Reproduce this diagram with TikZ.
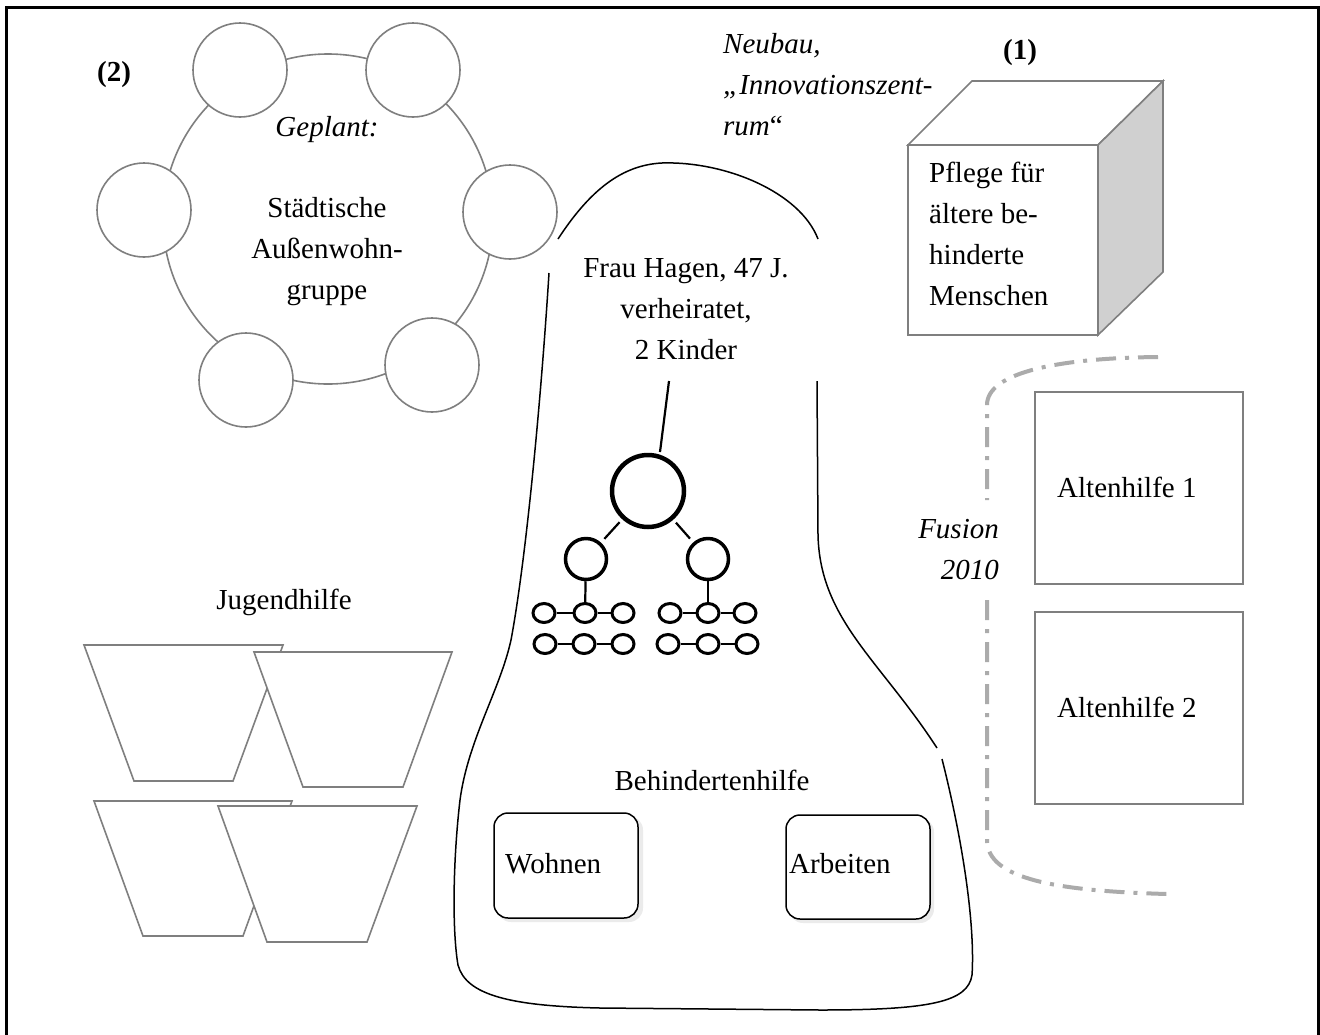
\documentclass[tikz,border=0pt]{standalone}
\usepackage{fontspec}
\setmainfont{Liberation Serif}
\usetikzlibrary{shapes.geometric}
\definecolor{linegray}{HTML}{7F7F7F}
\definecolor{sidegray}{HTML}{D0D0D0}
\definecolor{fusiongray}{HTML}{ABABAB}
\newcommand{\diagfont}{\fontsize{29}{41}\selectfont}
\tikzset{
  txt/.style={font=\diagfont, inner sep=0pt},
  graystroke/.style={draw=linegray, line width=1.6pt},
  ringdot/.style={circle, graystroke, fill=white, minimum size=94pt, inner sep=0pt},
  trapez/.style={graystroke, fill=white, line join=miter},
  blob/.style={draw=black, line width=1.5pt},
  roundbox/.style={draw=black, line width=1.5pt, rounded corners=14pt, fill=white},
  bigcirc/.style={circle, draw=black, line width=4.5pt, minimum size=72pt, inner sep=0pt},
  midcirc/.style={circle, draw=black, line width=3.5pt, minimum size=41pt, inner sep=0pt},
  smallell/.style={ellipse, draw=black, line width=3pt, minimum width=22pt, minimum height=19pt, inner sep=0pt},
  treeline/.style={draw=black, line width=2.2pt},
  fusionline/.style={draw=fusiongray, line width=4pt, dash pattern=on 20pt off 9pt on 4pt off 9pt},
  altbox/.style={graystroke},
}
\begin{document}
\begin{tikzpicture}[x=1pt, y=-1pt]
\useasboundingbox (0,0) rectangle (1320,1034);

% outer frame (open at the bottom)
\draw[line width=3pt] (6,1040) -- (6,7) -- (1318,7) -- (1318,1040);

% ---- (2) planned outside group: ring with six satellites
\node[txt, font=\diagfont\bfseries] (lbl2) at (114,75) {(2)};
\draw[graystroke] (328,219) circle (165pt);
\node[ringdot] (s1) at (240,70) {};
\node[ringdot] (s2) at (413,70) {};
\node[ringdot] (s3) at (144,210) {};
\node[ringdot] (s4) at (510,212) {};
\node[ringdot] (s5) at (246,380) {};
\node[ringdot] (s6) at (432,365) {};
\node[txt, font=\diagfont\itshape] (geplant) at (327,130) {Geplant:};
\node[txt, align=center] (aussen) at (327,252) {Städtische\\Außenwohn-\\gruppe};

% ---- Neubau label
\node[txt, align=left, anchor=west, font=\diagfont\itshape] (neubau) at (723,85)
  {Neubau,\\„Innovationszent-\\rum\upshape“};

% ---- (1) cube
\node[txt, font=\diagfont\bfseries] (lbl1) at (1020,53) {(1)};
\coordinate (fa) at (908,145);
\coordinate (fb) at (1098,145);
\coordinate (fc) at (1098,335);
\coordinate (fd) at (908,335);
\coordinate (ta) at (972,81);
\coordinate (tb) at (1163,81);
\coordinate (tc) at (1163,272);
\draw[graystroke, fill=white, line join=miter] (fa) -- (ta) -- (tb) -- (fb) -- cycle;
\draw[graystroke, fill=sidegray, line join=miter] (fb) -- (tb) -- (tc) -- (fc) -- cycle;
\draw[graystroke, fill=white] (fa) rectangle (fc);
\node[txt, align=left, anchor=west] (pflege) at (929,234)
  {Pflege für\\ältere be-\\hinderte\\Menschen};

% ---- Behindertenhilfe outline
\draw[blob] (558,239) .. controls (590,190) and (622,165) .. (662,163)
  .. controls (725,161) and (800,192) .. (818,239);
\draw[blob] (549,273) .. controls (541,400) and (526,560) .. (511,640)
  .. controls (500,690) and (468,740) .. (460,800)
  .. controls (453,860) and (452,930) .. (458,965)
  .. controls (466,995) and (510,1006) .. (600,1008)
  -- (820,1010) .. controls (930,1010) and (968,1002) .. (972,975)
  .. controls (975,930) and (965,850) .. (942,759);
\draw[blob] (817,381) -- (818,535) .. controls (820,620) and (880,660) .. (937,748);

\node[txt, align=center] (hagen) at (686,309) {Frau Hagen, 47 J.\\verheiratet,\\2 Kinder};

% family tree
\node[bigcirc] (t0) at (648,491) {};
\node[midcirc] (tl) at (586,559) {};
\node[midcirc] (tr) at (708,559) {};
\coordinate (hang) at (669,381);
\draw[treeline] (hang) -- (660,452);
\draw[treeline, shorten <=4pt, shorten >=5pt] (t0) -- (tl);
\draw[treeline, shorten <=4pt, shorten >=5pt] (t0) -- (tr);
\foreach \n/\x/\y in {a1/544/613, a2/585/613, a3/623/613,
                      a4/545/644, a5/584/644, a6/623/644,
                      b1/670/613, b2/708/613, b3/745/613,
                      b4/668/644, b5/708/644, b6/747/644}
  \node[smallell] (\n) at (\x,\y) {};
\draw[treeline] (tl) -- (a2);
\draw[treeline] (tr) -- (b2);
\foreach \p/\q in {a1/a2, a2/a3, a4/a5, a5/a6, b1/b2, b2/b3, b4/b5, b5/b6}
  \draw[treeline] (\p) -- (\q);

\node[txt] (behind) at (712,780) {Behindertenhilfe};
\fill[black, opacity=0.08, rounded corners=14pt] (497,816) rectangle (643,922);
\fill[black, opacity=0.08, rounded corners=14pt] (789,818) rectangle (934,923);
\draw[roundbox] (494,813) rectangle (638,918);
\draw[roundbox] (786,815) rectangle (930,919);
\node[txt, anchor=west] (wohnen) at (505,864) {Wohnen};
\node[txt, anchor=west] (arbeiten) at (789,864) {Arbeiten};

% ---- Jugendhilfe
\node[txt] (jugend) at (284,602) {Jugendhilfe};
\draw[trapez] (84,645) -- (283,645) -- (233,781) -- (134,781) -- cycle;
\draw[trapez] (254,652) -- (452,652) -- (403,787) -- (303,787) -- cycle;
\draw[trapez] (94,801) -- (292,801) -- (243,936) -- (143,936) -- cycle;
\draw[trapez] (218,806) -- (417,806) -- (367,942) -- (267,942) -- cycle;

% ---- Altenhilfe and merger bracket
\draw[altbox] (1035,392) rectangle (1243,584);
\draw[altbox] (1035,612) rectangle (1243,804);
\node[txt, anchor=west] (alt1) at (1057,487) {Altenhilfe 1};
\node[txt, anchor=west] (alt2) at (1057,707) {Altenhilfe 2};
\coordinate (ftop) at (1158,357);
\coordinate (fbot) at (1167,894);
\draw[fusionline] (ftop) .. controls (1060,358) and (987,372) .. (987,405) -- (987,500);
\draw[fusionline] (987,600) -- (987,840) .. controls (987,880) and (1060,891) .. (fbot);
\node[txt, align=right, anchor=east, font=\diagfont\itshape] (fusion) at (999,550) {Fusion\\2010};
\end{tikzpicture}
\end{document}
